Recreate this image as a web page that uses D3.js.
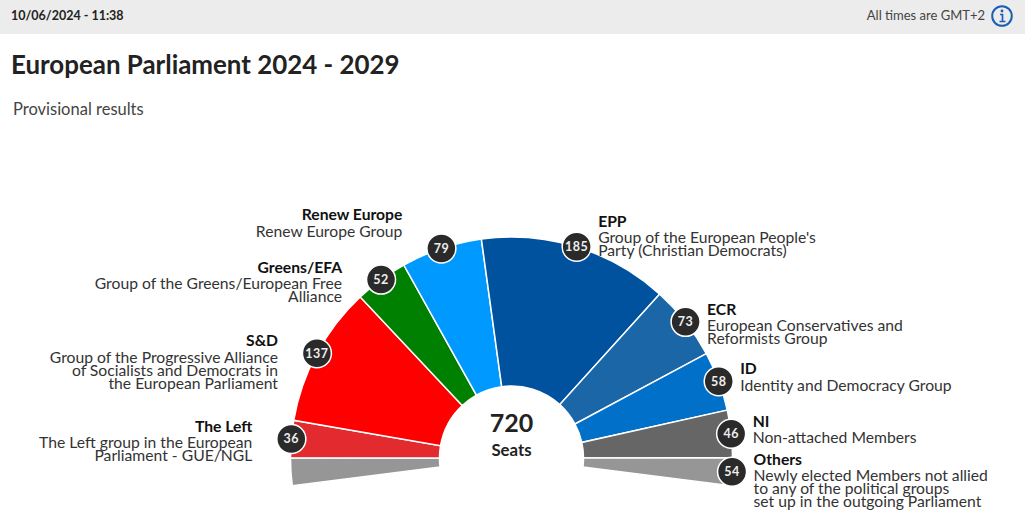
<!DOCTYPE html>
<html><head><meta charset="utf-8">
<script src="https://cdn.jsdelivr.net/npm/d3@7/dist/d3.min.js"></script>
<style>html,body{margin:0;padding:0;background:#fff;overflow:hidden}svg{display:block}text{font-family:Lato,"Open Sans",sans-serif;fill:#222}</style>
</head><body><svg id="c" width="1025" height="528"></svg>
<script>
const groups = ["Others-left","The Left","S&D","Greens/EFA","Renew Europe","EPP","ECR","ID","NI","Others"];
const seats = [27,36,137,52,79,185,73,58,46,27];
const badgeValues = [null,36,137,52,79,185,73,58,46,54];
const colors = ["#969696","#e32b2f","#ff0000","#008000","#0099ff","#00519e","#1a66a6","#0070c9","#666666","#969696"];
const descriptions = [
  [],
  ["The Left group in the European","Parliament - GUE/NGL"],
  ["Group of the Progressive Alliance","of Socialists and Democrats in","the European Parliament"],
  ["Group of the Greens/European Free","Alliance"],
  ["Renew Europe Group"],
  ["Group of the European People's","Party (Christian Democrats)"],
  ["European Conservatives and","Reformists Group"],
  ["Identity and Democracy Group"],
  ["Non-attached Members"],
  ["Newly elected Members not allied","to any of the political groups","set up in the outgoing Parliament"]
];
const totalSeats = 720;

const svg = d3.select("#c");
const cx = 511.5, cy = 458, rIn = 72, rOut = 221;
const span = 97.2 * Math.PI / 180;

// header
svg.append("rect").attr("width",1025).attr("height",34).attr("fill","#ececec");
svg.append("text").attr("x",11).attr("y",19.5).attr("font-size",12.5).attr("font-weight",700).text("10/06/2024 - 11:38");
svg.append("text").attr("x",985).attr("y",20).attr("text-anchor","end").attr("font-size",13).style("fill","#444").text("All times are GMT+2");
const info = svg.append("g").attr("transform","translate(1002,16)");
info.append("circle").attr("r",9.8).attr("fill","none").attr("stroke","#1a5fb4").attr("stroke-width",2);
info.append("circle").attr("cy",-5).attr("r",1.4).attr("fill","#1a5fb4");
info.append("path").attr("d","M-2,-1.5H0.5V5.5M-2.5,5.5H3.5").attr("fill","none").attr("stroke","#1a5fb4").attr("stroke-width",1.7);

svg.append("text").attr("x",11).attr("y",74).attr("font-size",25.9).attr("font-weight",700).text("European Parliament 2024 - 2029");
svg.append("text").attr("x",13).attr("y",115).attr("font-size",16.5).style("fill","#444").text("Provisional results");

// arcs
const pie = d3.pie().sort(null).startAngle(-span).endAngle(span).value(d=>d.seats);
const rows = groups.map((g,i)=>({name:g,seats:seats[i],badge:badgeValues[i],color:colors[i],desc:descriptions[i]}));
const arcs = pie(rows);
const arc = d3.arc().innerRadius(rIn).outerRadius(rOut);
const g = svg.append("g").attr("transform",`translate(${cx},${cy})`);
g.selectAll("path.s").data(arcs).join("path").attr("class","s").attr("d",arc)
  .attr("fill",d=>d.data.color).attr("stroke","#fff").attr("stroke-width",1.5);

const pos = d=>{const a=(d.startAngle+d.endAngle)/2;return [Math.sin(a)*rOut,-Math.cos(a)*rOut];};
const labelRaise = {"Renew Europe":21,"EPP":13};

// labels
arcs.filter(d=>d.data.badge!==null).forEach(d=>{
  const [x,y]=pos(d), left=x<0;
  const tx = left? x-39 : x+21.5;
  const y0 = y-7-(labelRaise[d.data.name]||0);
  const t = g.append("text").attr("text-anchor",left?"end":"start");
  t.append("tspan").attr("x",tx).attr("y",y0).attr("font-size",15.7).attr("font-weight",700).style("fill","#111").text(d.data.name);
  d.data.desc.forEach((l,i)=>{
    t.append("tspan").attr("x",tx).attr("y",y0+16.5+i*13).attr("font-size",15.7).style("fill","#333").text(l);
  });
});

// badges
const b = g.selectAll("g.b").data(arcs.filter(d=>d.data.badge!==null)).join("g").attr("class","b")
  .attr("transform",d=>`translate(${pos(d)})`);
b.append("circle").attr("r",14.5).attr("fill","#2a2a2a").attr("stroke","#fff").attr("stroke-width",1.5);
b.append("text").attr("text-anchor","middle").attr("y",4.5).attr("font-size",12.5).attr("font-weight",700).attr("letter-spacing",0.5).style("fill","#eee").text(d=>d.data.badge);

// centre
g.append("text").attr("text-anchor","middle").attr("y",-26).attr("font-size",25).attr("font-weight",700).text(totalSeats);
g.append("text").attr("text-anchor","middle").attr("y",-2).attr("font-size",16.8).attr("font-weight",700).text("Seats");
</script></body></html>
